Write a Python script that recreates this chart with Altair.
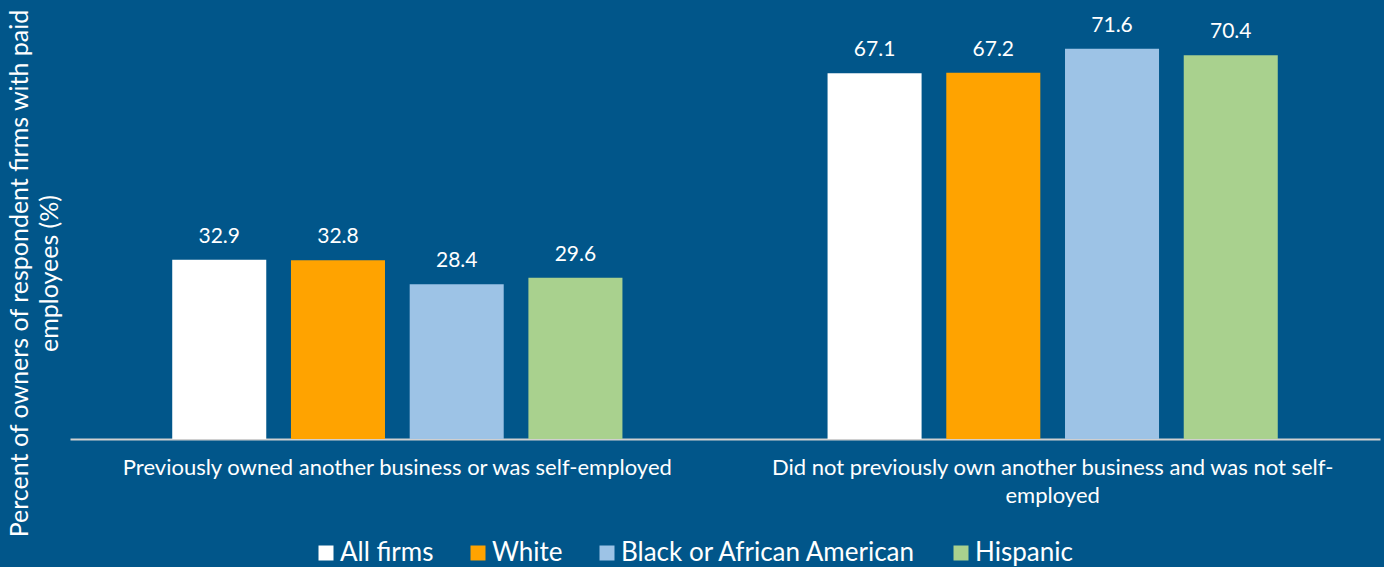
import altair as alt
import pandas as pd

categories = [
    "Previously owned another business or was self-employed",
    "Did not previously own another business and was not self-employed",
]
groups = ["All firms", "White", "Black or African American", "Hispanic"]
values_prev = [32.9, 32.8, 28.4, 29.6]
values_not = [67.1, 67.2, 71.6, 70.4]
colors = ["#FFFFFF", "#FFA300", "#9DC3E6", "#A9D18E"]
label_lines = {
    categories[0]: [categories[0]],
    categories[1]: ["Did not previously own another business and was not self-", "employed"],
}
y_title = ["Percent of owners of respondent firms with paid", "employees (%)"]

rows = []
for g, v in zip(groups, values_prev):
    rows.append({"cat": categories[0], "group": g, "value": v})
for g, v in zip(groups, values_not):
    rows.append({"cat": categories[1], "group": g, "value": v})
df = pd.DataFrame(rows)

label_expr = "datum.label == '%s' ? ['%s', '%s'] : datum.label" % (
    categories[1], label_lines[categories[1]][0], label_lines[categories[1]][1]
)

FONT = "Lato"
BG = "#01568A"

base = alt.Chart(df)

x = alt.X(
    "cat:N",
    sort=categories,
    scale=alt.Scale(paddingInner=0.313, paddingOuter=0.156),
    axis=alt.Axis(
        title=None,
        labelAngle=0,
        labelExpr=label_expr,
        labelColor="white",
        labelFont=FONT,
        labelFontSize=22,
        labelLineHeight=28,
        labelPadding=18,
        labelLimit=1000,
        ticks=False,
        domainColor="#D0D0D0",
        domainWidth=2,
    ),
)
xoff = alt.XOffset("group:N", sort=groups, scale=alt.Scale(paddingInner=0.208, paddingOuter=0))
y = alt.Y(
    "value:Q",
    scale=alt.Scale(domain=[0, 80]),
    axis=alt.Axis(
        title=y_title,
        titleColor="white",
        titleFont=FONT,
        titleFontSize=25,
        titleFontWeight="normal",
        titleLineHeight=30,
        titleX=-63,
        titleY=270,
        titleBaseline="top",
        titleAlign="center",
        labels=False,
        ticks=False,
        domain=False,
        grid=False,
    ),
)

bars = base.mark_bar().encode(
    x=x,
    xOffset=xoff,
    y=y,
    color=alt.Color(
        "group:N",
        sort=groups,
        scale=alt.Scale(domain=groups, range=colors),
        legend=alt.Legend(
            title=None,
            orient="none",
            direction="horizontal",
            legendX=243,
            legendY=537,
            symbolType="square",
            symbolSize=225,
            symbolStrokeWidth=0,
            symbolOpacity=1,
            labelColor="white",
            labelFont=FONT,
            labelFontSize=26,
            labelOffset=1,
            columnPadding=31,
            labelLimit=1000,
        ),
    ),
)

text = base.mark_text(
    baseline="bottom", dy=-13, color="white", font=FONT, fontSize=21
).encode(
    x=alt.X("cat:N", sort=categories),
    xOffset=alt.XOffset("group:N", sort=groups),
    y="value:Q",
    text=alt.Text("value:Q", format=".1f"),
)

chart = (
    alt.layer(bars, text)
    .properties(
        width=1310,
        height=436,
        background=BG,
        padding={"left": 70, "top": 3, "right": 4, "bottom": 128},
        autosize=alt.AutoSizeParams(type="none"),
    )
    .configure_view(stroke=None)
)

chart.save("out.html", embed_options={"renderer": "svg", "actions": False})
